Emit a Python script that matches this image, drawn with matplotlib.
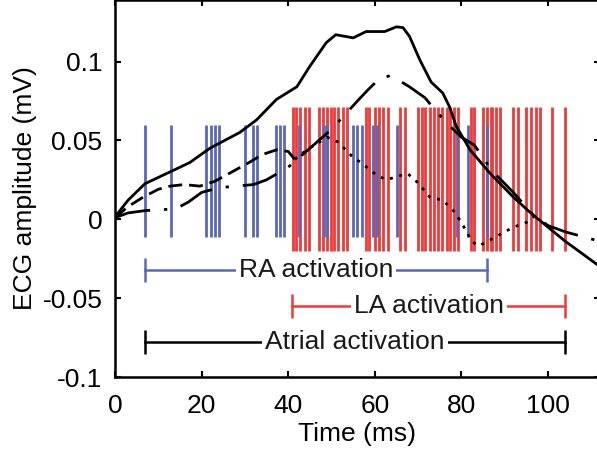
import matplotlib
matplotlib.use("Agg")
import matplotlib.pyplot as plt

BLUE  = "#5a68b8"
RED   = "#ef3a3a"
BLACK = "#000000"

plt.rcParams["font.family"] = ["Liberation Sans", "DejaVu Sans"]
plt.rcParams["font.size"] = 19

# activation times (ms)
ra_times = [6.9, 12.9, 21.0, 22.2, 23.1, 24.0, 30.0, 31.9, 32.8, 37.2, 38.1, 39.0,
            42.6, 48.2, 49.0, 55.0, 56.0, 57.0, 59.5, 60.6, 65.2, 79.0, 81.5, 86.0]
la_times = [41.0, 41.9, 42.8, 43.8, 44.7, 47.0, 48.0, 48.9, 49.8, 50.6, 51.5, 52.6,
            53.5, 57.9, 58.6, 60.0, 61.0, 62.0, 63.0, 65.8, 67.0, 70.0, 70.9, 71.6,
            72.7, 73.7, 74.6, 75.5, 76.7, 77.4, 78.3, 79.2, 82.2, 82.9, 85.0, 85.9,
            86.8, 87.0, 88.0, 88.9, 91.9, 93.0, 95.0, 96.0, 97.2, 98.2, 101.0, 104.0]
ra_range = (-0.011, 0.060)
la_range = (-0.020, 0.071)

# ECG traces (mV)
t_solid = [0, 3, 6.9, 12.7, 17.3, 21.9, 28.8, 32.7, 37.3, 42, 45, 48.8, 51, 55, 58,
           62.3, 65, 66.5, 68, 70.4, 73, 75.7, 77.3, 78.8, 82, 86.5, 92, 96, 100,
           104, 108, 112]
v_solid = [0.0015, 0.012, 0.0225, 0.030, 0.036, 0.045, 0.055, 0.063, 0.076, 0.084,
           0.097, 0.112, 0.117, 0.115, 0.119, 0.119, 0.122, 0.1215, 0.116, 0.101,
           0.087, 0.080, 0.071, 0.059, 0.044, 0.0295, 0.014, 0.004, -0.005, -0.014,
           -0.022, -0.030]

t_dash = [0, 3, 6.5, 10, 12.7, 16, 19.6, 23, 27, 31, 34, 37.3, 40, 41.5]
v_dash = [0.001, 0.008, 0.014, 0.019, 0.021, 0.022, 0.021, 0.024, 0.030, 0.036,
          0.041, 0.044, 0.043, 0.038]

t_dot = [41.5, 44.3, 49, 51.5, 54.7, 57.2, 60.4, 62.7, 65, 67.6, 70, 72.7, 75.7, 78,
         80, 82.4, 84, 88, 92, 95, 97.5]
v_dot = [0.038, 0.044, 0.052, 0.049, 0.040, 0.035, 0.028, 0.025, 0.027, 0.029,
         0.023, 0.014, 0.012, 0.006, -0.002, -0.014, -0.017, -0.011, -0.005, -0.002,
         0.003]

t_dashdot = [0, 3, 7, 10, 14, 17, 20, 24, 28, 32, 35, 40, 45, 50, 53, 56, 58.4, 61,
             63.5, 65, 68, 71.6, 74, 76.6, 80, 83, 87, 92, 96.5, 100, 104, 108, 112]
v_dashdot = [0.001, 0.004, 0.0055, 0.006, 0.0065, 0.011, 0.017, 0.020, 0.021, 0.022,
             0.025, 0.033, 0.045, 0.057, 0.066, 0.075, 0.082, 0.089, 0.091, 0.089,
             0.084, 0.077, 0.069, 0.061, 0.052, 0.047, 0.031, 0.017, 0.003, -0.004,
             -0.008, -0.011, -0.014]

# activation spans: (label, start, end, y, colour)
spans = [
    ("RA activation", 6.9, 86.0, -0.032, BLUE),
    ("LA activation", 40.9, 104.0, -0.055, RED),
    ("Atrial activation", 6.9, 104.0, -0.0778, BLACK),
]

fig = plt.figure(figsize=(5.97, 4.54), dpi=100)
ax = fig.add_axes([0.1926, 0.1696, 0.8124, 0.8304])

ax.vlines(la_times, la_range[0], la_range[1], color=RED, lw=2.0, zorder=1)
ax.vlines(ra_times, ra_range[0], ra_range[1], color=BLUE, lw=2.0, zorder=2)

ax.plot(t_solid, v_solid, color=BLACK, lw=2.0, zorder=4)
ax.plot(t_dash, v_dash, color=BLACK, lw=2.0, ls=(0, (5, 2.5)), zorder=4)
ax.plot(t_dot, v_dot, color=BLACK, lw=2.0, ls=(0, (1.1, 2.4)), zorder=4)
ax.plot(t_dashdot, v_dashdot, color=BLACK, lw=2.0, ls=(0, (13, 5, 1.2, 5)), zorder=4)

cap = 0.0075
for label, x0, x1, y, c in spans:
    ax.plot([x0, x1], [y, y], color=c, lw=1.8, zorder=3)
    ax.vlines([x0, x1], y - cap, y + cap, color=c, lw=1.8, zorder=3)
    ax.text((x0 + x1) / 2, y, label, ha="center", va="center", fontsize=19,
            color="#1a1a1a", zorder=5,
            bbox=dict(boxstyle="square,pad=0.12", fc="white", ec="none"))

ax.set_xlim(0, 112)
ax.set_ylim(-0.1, 0.139)
ax.set_xticks([0, 20, 40, 60, 80, 100])
ax.set_yticks([-0.1, -0.05, 0, 0.05, 0.1])
ax.set_yticklabels(["-0.1", "-0.05", "0", "0.05", "0.1"])
ax.tick_params(direction="in", length=4, width=1.5, top=True, right=True, pad=9,
               labelsize=19)
ax.tick_params(axis="x", pad=12)
for s in ax.spines.values():
    s.set_linewidth(1.8)

ax.set_xlabel("Time (ms)", fontsize=19, labelpad=3)
ax.set_ylabel("ECG amplitude (mV)", fontsize=19, labelpad=4)

fig.savefig("out.png", dpi=100, facecolor="white")
